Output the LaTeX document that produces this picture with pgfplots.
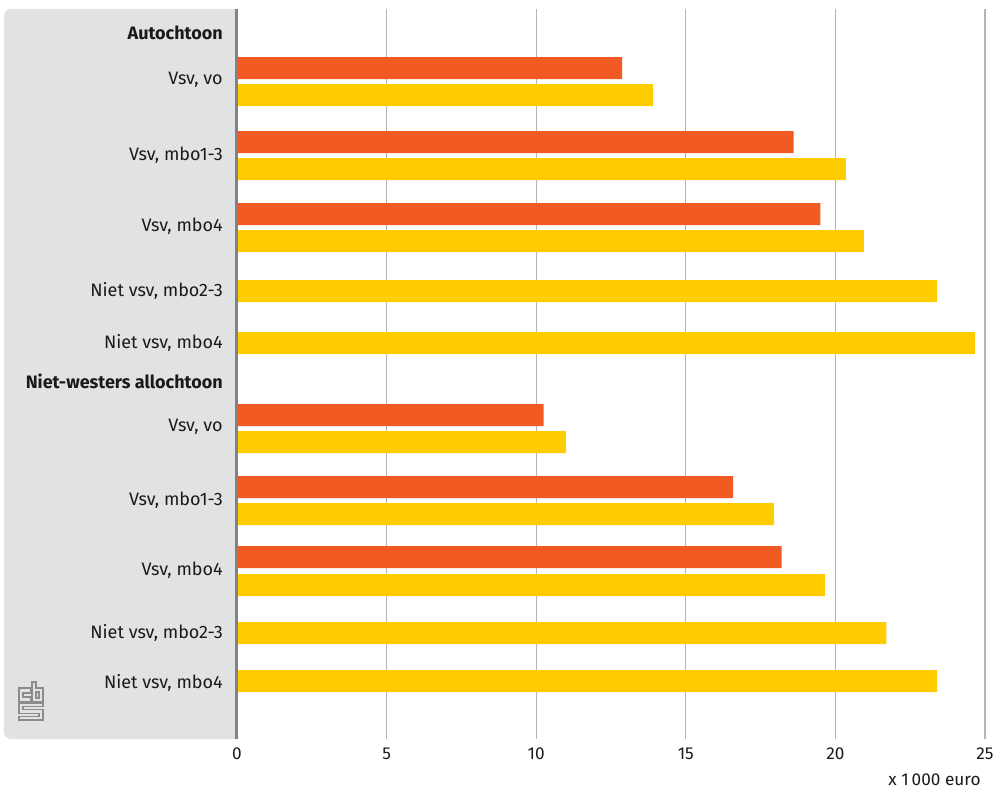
\documentclass[border=0pt]{standalone}
\usepackage{pgfplots}
\pgfplotsset{compat=1.18}
\usepackage{fontspec}
\setmainfont{Fira Sans}
\definecolor{cbsorange}{HTML}{F15A22}
\definecolor{cbsyellow}{HTML}{FFCC00}
\definecolor{panel}{HTML}{E1E2E4}
\definecolor{axgrey}{HTML}{808285}
\definecolor{gridgrey}{HTML}{B4B5B8}
\definecolor{logogrey}{HTML}{8A8C8E}
\definecolor{txt}{HTML}{1A1A1A}
\begin{document}
\begin{tikzpicture}[x=1pt,y=1pt]
\useasboundingbox (-118.5,-27) rectangle (381.5,369.5);
\fill[panel,rounded corners=3.5pt] (0,0) -- (-116.5,0) -- (-116.5,365) -- (0,365);
\fill[panel] (-5,0) rectangle (0,365);
% cbs logo (approximate)
\begin{scope}[draw=logogrey, line width=0.55pt, line join=miter]
\draw (-103,25.5) -- (-109,25.5) -- (-109,18.5) -- (-103,18.5) -- (-103,21) -- (-107,21) -- (-107,23) -- (-103,23) -- cycle;
\draw (-102.5,28.5) -- (-102.5,18.5) -- (-97,18.5) -- (-97,25.5) -- (-100.5,25.5) -- (-100.5,28.5) -- cycle;
\draw (-100.5,20.5) rectangle (-99,23.5);
\draw (-97,18) -- (-109,18) -- (-109,12.875) -- (-99,12.875) -- (-99,11.25) -- (-109,11.25) -- (-109,9.5) -- (-97,9.5) -- (-97,14.625) -- (-107,14.625) -- (-107,16.25) -- (-97,16.25) -- cycle;
\end{scope}
\begin{axis}[
  at={(0,0)}, anchor=south west,
  scale only axis, width=374pt, height=365pt,
  xmin=0, xmax=25, ymin=9, ymax=739, y dir=reverse,
  axis line style={draw=none},
  xtick={0,5,10,15,20,25},
  xmajorgrids, grid style={gridgrey, line width=0.6pt},
  major tick length=0pt,
  ytick={33,80,155,226,291,343,381,427,500,570,633,683},
  yticklabels={\textbf{Autochtoon},{Vsv, vo},{Vsv, mbo1-3},{Vsv, mbo4},{Niet vsv, mbo2-3},{Niet vsv, mbo4},\textbf{Niet-westers allochtoon},{Vsv, vo},{Vsv, mbo1-3},{Vsv, mbo4},{Niet vsv, mbo2-3},{Niet vsv, mbo4}},
  yticklabel style={font=\fontsize{9}{10}\selectfont, text=txt, xshift=-3.6pt},
  xticklabel style={font=\fontsize{8.6}{10}\selectfont, text=txt, yshift=-1pt},
  /pgf/number format/assume math mode=true,
  clip=false,
]
\addplot[xbar, bar width=22, bar shift=0pt, fill=cbsorange, draw=none] coordinates {
(12.87,68) (18.6,142) (19.5,214) (10.25,415) (16.58,487) (18.2,557)};
\addplot[xbar, bar width=22, bar shift=0pt, fill=cbsyellow, draw=none] coordinates {
(13.9,95) (20.35,169) (20.95,241) (23.4,291) (24.67,343) (11.0,442) (17.95,514) (19.65,585) (21.7,633) (23.4,681)};
\draw[axgrey, line width=1.5pt] (axis cs:0,9) -- (axis cs:0,739);
\node[anchor=north east, font=\fontsize{8.6}{10}\selectfont, text=txt, inner sep=0pt] at ([yshift=-17pt,xshift=-2pt]rel axis cs:1,0) {x 1\,000 euro};
\end{axis}
\end{tikzpicture}
\end{document}
